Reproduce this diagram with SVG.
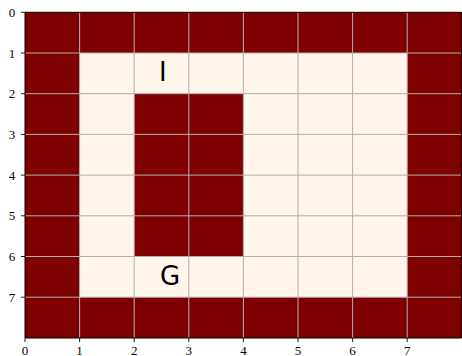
<svg xmlns="http://www.w3.org/2000/svg" width="462" height="356" viewBox="0 0 462 356">
<style>
.d{fill:#7f0000}
.c{fill:#fff5eb}
.g{stroke:#b0b0b0;stroke-width:1;fill:none}
.t{stroke:#000;stroke-width:0.9}
.sp{stroke:#000;stroke-width:1;fill:none}
.tl{font-family:"Liberation Serif","DejaVu Serif",serif;font-size:13px;fill:#000}
.lb{font-family:"DejaVu Sans","Noto Sans",sans-serif;font-size:26px;fill:#000}
</style>
<rect width="462" height="356" fill="#fff"/>
<g id="grid-cells">
<rect class="d" x="25" y="12.3" width="437" height="325.7"/>
<rect class="c" x="79.6" y="53" width="327.6" height="244.3"/>
<rect class="d" x="134.2" y="93.7" width="109.2" height="162.9"/>
</g>
<g id="gridlines" class="g">
<path d="M79.6 12.3V338M134.2 12.3V338M188.8 12.3V338M243.4 12.3V338M298 12.3V338M352.6 12.3V338M407.2 12.3V338"/>
<path d="M25 53H462M25 93.7H462M25 134.4H462M25 175.1H462M25 215.8H462M25 256.5H462M25 297.2H462"/>
</g>
<g id="axes">
<path class="sp" d="M25 12.3V338H461.5V12.3H25"/>
<path class="t" d="M25 338v4M79.6 338v4M134.2 338v4M188.8 338v4M243.4 338v4M298 338v4M352.6 338v4M407.2 338v4"/>
<path class="t" d="M25 12.3h-4M25 53h-4M25 93.7h-4M25 134.4h-4M25 175.1h-4M25 215.8h-4M25 256.5h-4M25 297.2h-4"/>
<g class="tl" text-anchor="middle">
<text x="25" y="355">0</text><text x="79.6" y="355">1</text><text x="134.2" y="355">2</text><text x="188.8" y="355">3</text><text x="243.4" y="355">4</text><text x="298" y="355">5</text><text x="352.6" y="355">6</text><text x="407.2" y="355">7</text>
</g>
<g class="tl" text-anchor="middle">
<text x="12" y="16.8">0</text><text x="12" y="57.5">1</text><text x="12" y="98.2">2</text><text x="12" y="138.9">3</text><text x="12" y="179.6">4</text><text x="12" y="220.3">5</text><text x="12" y="261">6</text><text x="12" y="301.7">7</text>
</g>
</g>
<g id="label-I"><text class="lb" x="159" y="80.7">I</text></g>
<g id="label-G"><text class="lb" x="160" y="285.3">G</text></g>
</svg>
